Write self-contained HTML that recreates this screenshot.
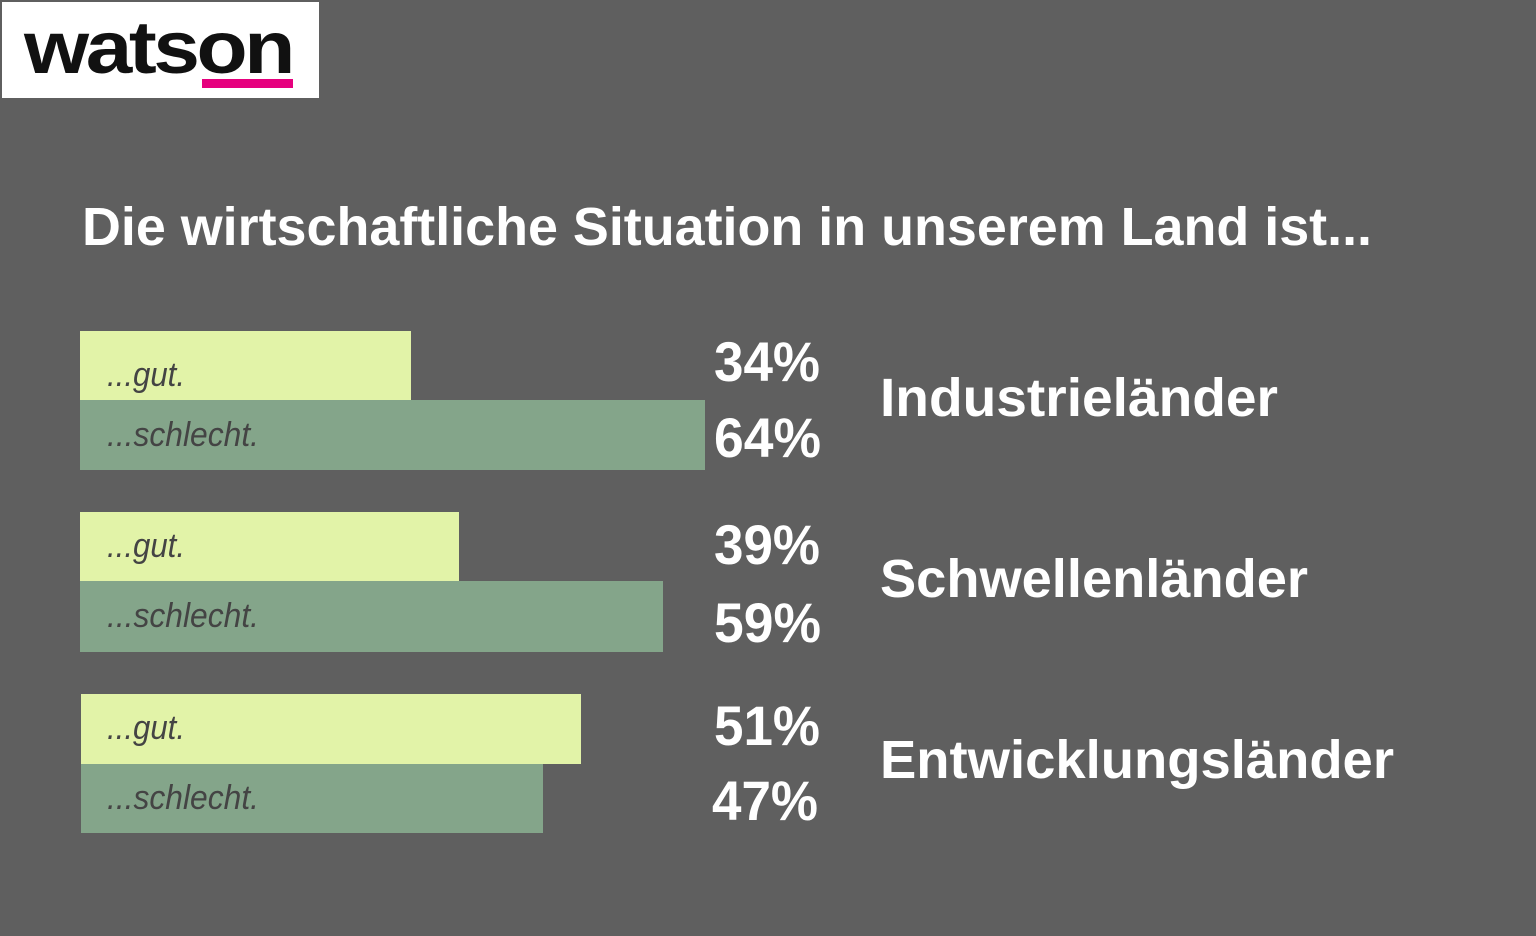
<!DOCTYPE html>
<html><head><meta charset="utf-8"><style>
html,body{margin:0;padding:0;background:#5f5f5f;}
svg{display:block}
</style></head><body>
<svg width="1536" height="936" xmlns="http://www.w3.org/2000/svg">
<rect width="1536" height="936" fill="#5f5f5f"/>
<rect x="2" y="2" width="317" height="96" fill="#fff"/>
<text x="24" y="73" font-family="Liberation Sans, sans-serif" font-weight="bold" font-size="74" fill="#111" textLength="268" lengthAdjust="spacingAndGlyphs" letter-spacing="-3">watson</text>
<rect x="202" y="79" width="91" height="9" fill="#e6007e"/>
<g font-family="Liberation Sans, sans-serif" font-weight="bold" fill="#fff">
<text x="82" y="245" font-size="54" textLength="1290" lengthAdjust="spacingAndGlyphs">Die wirtschaftliche Situation in unserem Land ist...</text>
</g>
<g>
<rect x="80" y="331" width="331" height="70" fill="#e2f3a8"/>
<rect x="80" y="400" width="625" height="70" fill="#84a58a"/>
<rect x="80" y="512" width="379" height="70" fill="#e2f3a8"/>
<rect x="80" y="581" width="583" height="71" fill="#84a58a"/>
<rect x="81" y="694" width="500" height="70" fill="#e2f3a8"/>
<rect x="81" y="764" width="462" height="69" fill="#84a58a"/>
</g>
<g font-family="Liberation Sans, sans-serif" font-style="italic" font-size="34" fill="#444">
<text x="107" y="386" textLength="78" lengthAdjust="spacingAndGlyphs">...gut.</text>
<text x="107" y="446" textLength="152" lengthAdjust="spacingAndGlyphs">...schlecht.</text>
<text x="107" y="557" textLength="78" lengthAdjust="spacingAndGlyphs">...gut.</text>
<text x="107" y="627" textLength="152" lengthAdjust="spacingAndGlyphs">...schlecht.</text>
<text x="107" y="739" textLength="78" lengthAdjust="spacingAndGlyphs">...gut.</text>
<text x="107" y="809" textLength="152" lengthAdjust="spacingAndGlyphs">...schlecht.</text>
</g>
<g font-family="Liberation Sans, sans-serif" font-weight="bold" font-size="56" fill="#fff">
<text x="714" y="381" textLength="106" lengthAdjust="spacingAndGlyphs">34%</text>
<text x="714" y="457" textLength="107" lengthAdjust="spacingAndGlyphs">64%</text>
<text x="714" y="564" textLength="106" lengthAdjust="spacingAndGlyphs">39%</text>
<text x="714" y="642" textLength="107" lengthAdjust="spacingAndGlyphs">59%</text>
<text x="714" y="745" textLength="106" lengthAdjust="spacingAndGlyphs">51%</text>
<text x="712" y="820" textLength="106" lengthAdjust="spacingAndGlyphs">47%</text>
</g>
<g font-family="Liberation Sans, sans-serif" font-weight="bold" font-size="54" fill="#fff">
<text x="880" y="416" textLength="398" lengthAdjust="spacingAndGlyphs">Industrieländer</text>
<text x="880" y="597" textLength="428" lengthAdjust="spacingAndGlyphs">Schwellenländer</text>
<text x="880" y="778" textLength="514" lengthAdjust="spacingAndGlyphs">Entwicklungsländer</text>
</g>
</svg>
</body></html>
